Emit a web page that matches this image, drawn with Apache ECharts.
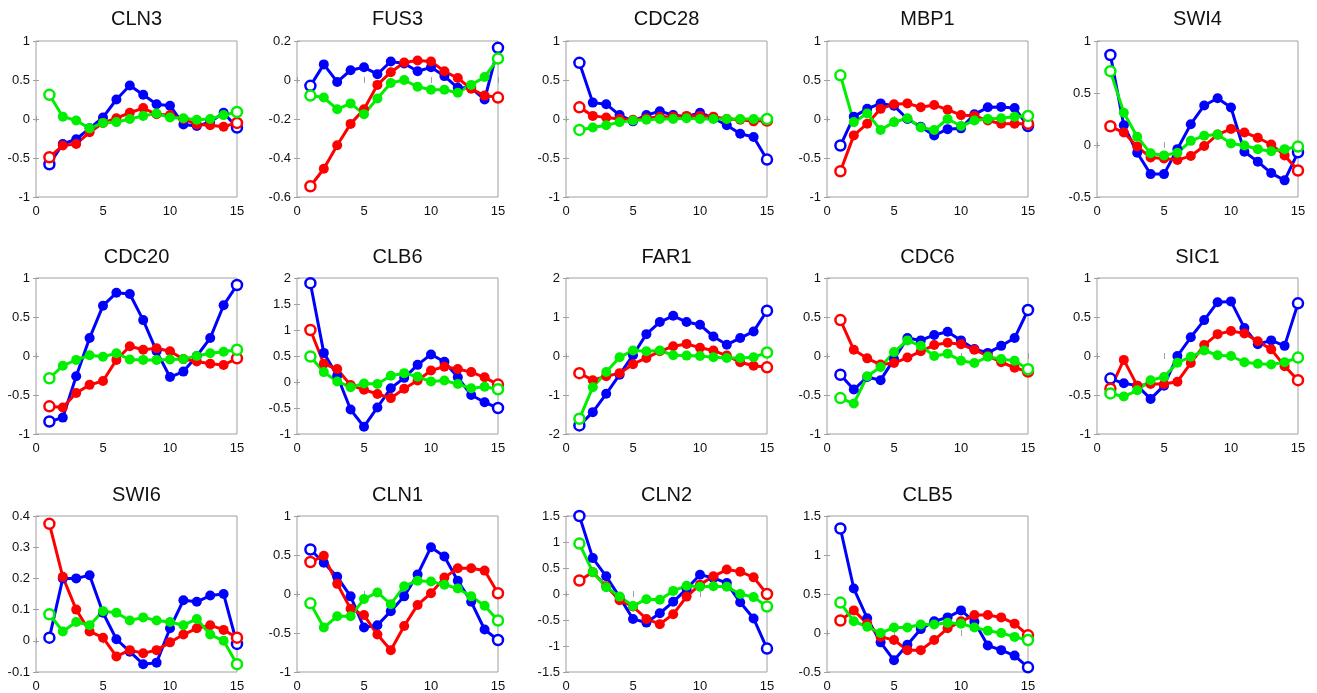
<!DOCTYPE html>
<html>
<head>
<meta charset="utf-8">
<script src="https://cdn.jsdelivr.net/npm/echarts@6/dist/echarts.min.js"></script>
<style>
html,body{margin:0;padding:0;background:#fff;}
#chart{width:1317px;height:693px;}
</style>
</head>
<body>
<div id="chart"></div>
<script>
// x positions (time points)
const xs = [1,2,3,4,5,6,7,8,9,10,11,12,13,14,15];

// panel titles (genes), in reading order
const genes = ['CLN3','FUS3','CDC28','MBP1','SWI4','CDC20','CLB6','FAR1','CDC6','SIC1','SWI6','CLN1','CLN2','CLB5'];

// y axis ranges / tick steps per panel
const yMin  = [-1, -0.6, -1, -1, -0.5, -1, -1, -2, -1, -1, -0.1, -1, -1.5, -0.5];
const yMax  = [ 1,  0.2,  1,  1,  1,    1,  2,  2,  1,  1,  0.4,  1,  1.5,  1.5];
const yStep = [0.5, 0.2, 0.5, 0.5, 0.5, 0.5, 0.5, 1, 0.5, 0.5, 0.1, 0.5, 0.5, 0.5];

// series values: _b = blue, _r = red, _g = green
const CLN3_b = [-0.58,-0.32,-0.26,-0.12,0.02,0.25,0.43,0.31,0.19,0.17,-0.07,-0.09,-0.04,0.08,-0.11];
const CLN3_r = [-0.49,-0.34,-0.32,-0.17,-0.05,0.01,0.08,0.14,0.06,0.05,0.0,-0.07,-0.08,-0.10,-0.05];
const CLN3_g = [0.31,0.03,-0.02,-0.12,-0.05,-0.04,0.0,0.04,0.07,0.02,0.01,-0.01,0.0,0.05,0.09];

const FUS3_b = [-0.03,0.08,-0.01,0.05,0.065,0.03,0.095,0.085,0.045,0.065,0.02,-0.04,-0.04,-0.10,0.165];
const FUS3_r = [-0.545,-0.455,-0.335,-0.225,-0.15,-0.025,0.04,0.09,0.10,0.095,0.045,0.01,-0.045,-0.08,-0.09];
const FUS3_g = [-0.08,-0.09,-0.15,-0.12,-0.175,-0.095,-0.015,0.0,-0.035,-0.05,-0.05,-0.065,-0.025,0.015,0.11];

const CDC28_b = [0.72,0.21,0.19,0.05,-0.03,0.05,0.10,0.05,0.03,0.08,0.01,-0.08,-0.19,-0.23,-0.52];
const CDC28_r = [0.15,0.04,0.02,0.0,-0.01,0.01,0.03,0.03,0.04,0.04,0.03,0.0,-0.01,-0.03,-0.02];
const CDC28_g = [-0.14,-0.11,-0.08,-0.04,-0.02,-0.01,0.0,0.0,0.01,0.0,0.0,0.0,0.0,0.0,0.0];

const MBP1_b = [-0.34,0.03,0.13,0.20,0.17,0.0,-0.10,-0.21,-0.13,-0.12,0.06,0.15,0.155,0.14,-0.09];
const MBP1_r = [-0.67,-0.21,-0.06,0.13,0.19,0.20,0.15,0.18,0.12,0.05,0.04,-0.02,-0.06,-0.06,-0.06];
const MBP1_g = [0.56,-0.04,0.07,-0.14,-0.04,0.01,-0.11,-0.14,0.0,-0.09,-0.02,0.0,0.01,0.03,0.04];

const SWI4_b = [0.865,0.19,-0.075,-0.28,-0.28,-0.04,0.20,0.38,0.45,0.36,-0.065,-0.16,-0.27,-0.34,-0.07];
const SWI4_r = [0.18,0.12,-0.015,-0.12,-0.13,-0.145,-0.105,-0.01,0.10,0.155,0.12,0.07,0.005,-0.10,-0.245];
const SWI4_g = [0.71,0.31,0.08,-0.08,-0.10,-0.075,0.04,0.09,0.10,0.015,-0.005,-0.04,-0.06,-0.04,-0.015];

const CDC20_b = [-0.84,-0.79,-0.26,0.23,0.645,0.81,0.795,0.46,0.06,-0.27,-0.20,0.0,0.23,0.65,0.91];
const CDC20_r = [-0.645,-0.66,-0.475,-0.37,-0.32,-0.05,0.125,0.08,0.10,0.06,-0.04,-0.07,-0.10,-0.115,-0.03];
const CDC20_g = [-0.285,-0.125,-0.05,0.01,-0.01,0.035,-0.045,-0.05,-0.05,-0.045,-0.04,0.0,0.035,0.055,0.08];

const CLB6_b = [1.90,0.56,0.12,-0.53,-0.86,-0.49,-0.12,0.08,0.33,0.53,0.39,0.09,-0.25,-0.39,-0.50];
const CLB6_r = [1.0,0.35,0.25,-0.06,-0.15,-0.23,-0.31,-0.13,0.03,0.22,0.295,0.25,0.19,0.09,-0.05];
const CLB6_g = [0.49,0.19,0.01,-0.10,-0.03,-0.04,0.12,0.17,0.10,0.01,0.03,-0.04,-0.12,-0.09,-0.14];

const FAR1_b = [-1.78,-1.44,-0.97,-0.48,0.02,0.56,0.87,1.03,0.87,0.80,0.50,0.29,0.46,0.63,1.16];
const FAR1_r = [-0.44,-0.62,-0.52,-0.44,-0.21,-0.05,0.12,0.25,0.31,0.21,0.14,0.01,-0.16,-0.25,-0.29];
const FAR1_g = [-1.61,-0.80,-0.41,-0.03,0.14,0.12,0.14,0.02,0.01,0.0,-0.03,-0.05,-0.05,-0.03,0.09];

const CDC6_b = [-0.24,-0.43,-0.27,-0.31,-0.04,0.23,0.20,0.27,0.31,0.20,0.09,0.04,0.13,0.23,0.59];
const CDC6_r = [0.46,0.08,-0.03,-0.11,-0.09,-0.02,0.06,0.14,0.17,0.15,0.08,0.0,-0.08,-0.15,-0.20];
const CDC6_g = [-0.54,-0.61,-0.26,-0.14,0.05,0.20,0.13,0.0,0.03,-0.06,-0.09,-0.01,-0.04,-0.06,-0.17];

const SIC1_b = [-0.29,-0.35,-0.38,-0.55,-0.38,0.0,0.24,0.46,0.69,0.70,0.36,0.15,0.20,0.13,0.675];
const SIC1_r = [-0.42,-0.05,-0.38,-0.36,-0.36,-0.33,-0.09,0.14,0.28,0.32,0.29,0.19,0.085,-0.13,-0.31];
const SIC1_g = [-0.48,-0.52,-0.44,-0.31,-0.27,-0.085,-0.01,0.07,0.01,0.0,-0.08,-0.10,-0.11,-0.08,-0.02];

const SWI6_b = [0.01,0.20,0.20,0.21,0.09,0.005,-0.035,-0.075,-0.07,0.04,0.13,0.125,0.145,0.15,-0.01];
const SWI6_r = [0.375,0.205,0.10,0.03,0.01,-0.05,-0.03,-0.04,-0.03,-0.005,0.02,0.04,0.05,0.035,0.01];
const SWI6_g = [0.085,0.03,0.06,0.05,0.095,0.09,0.065,0.075,0.065,0.06,0.05,0.07,0.02,0.0,-0.075];

const CLN1_b = [0.57,0.40,0.22,-0.03,-0.43,-0.40,-0.22,-0.03,0.25,0.60,0.48,0.17,-0.10,-0.455,-0.59];
const CLN1_r = [0.41,0.49,0.13,-0.19,-0.27,-0.52,-0.72,-0.41,-0.14,0.01,0.21,0.33,0.33,0.30,0.01];
const CLN1_g = [-0.12,-0.43,-0.285,-0.285,-0.065,0.02,-0.13,0.10,0.17,0.16,0.12,0.07,-0.03,-0.15,-0.34];

const CLN2_b = [1.50,0.69,0.34,-0.06,-0.48,-0.55,-0.37,-0.15,0.10,0.37,0.31,0.21,-0.16,-0.47,-1.05];
const CLN2_r = [0.26,0.42,0.15,-0.12,-0.24,-0.48,-0.58,-0.39,-0.05,0.18,0.34,0.47,0.43,0.32,0.0];
const CLN2_g = [0.97,0.42,0.13,-0.05,-0.23,-0.10,-0.11,0.06,0.16,0.14,0.15,0.14,0.0,-0.06,-0.24];

const CLB5_b = [1.34,0.57,0.19,-0.12,-0.35,-0.15,0.05,0.15,0.20,0.29,0.145,-0.16,-0.22,-0.29,-0.44];
const CLB5_r = [0.16,0.29,0.12,-0.05,-0.09,-0.22,-0.22,-0.09,0.06,0.15,0.23,0.23,0.20,0.12,-0.03];
const CLB5_g = [0.39,0.15,0.08,0.0,0.07,0.07,0.11,0.11,0.13,0.12,0.07,0.03,0.0,-0.05,-0.09];

const panelData = [
  [CLN3_b, CLN3_r, CLN3_g], [FUS3_b, FUS3_r, FUS3_g], [CDC28_b, CDC28_r, CDC28_g],
  [MBP1_b, MBP1_r, MBP1_g], [SWI4_b, SWI4_r, SWI4_g], [CDC20_b, CDC20_r, CDC20_g],
  [CLB6_b, CLB6_r, CLB6_g], [FAR1_b, FAR1_r, FAR1_g], [CDC6_b, CDC6_r, CDC6_g],
  [SIC1_b, SIC1_r, SIC1_g], [SWI6_b, SWI6_r, SWI6_g], [CLN1_b, CLN1_r, CLN1_g],
  [CLN2_b, CLN2_r, CLN2_g], [CLB5_b, CLB5_r, CLB5_g]
];

const colors = ['#0000ff', '#ff0000', '#00ee00'];

// layout (pixels)
const colLeft = [36, 297, 566, 827, 1097];
const rowTop = [41, 278, 516];
const rowTitleY = [20, 258, 496];
const plotW = 201, plotH = 156;
const FONT = '"Liberation Sans", Arial, Helvetica, sans-serif';
const BOX = '#a0a0a0';

const grids = [], xAxes = [], yAxes = [], titles = [], series = [];
genes.forEach((g, i) => {
  const c = i % 5, r = Math.floor(i / 5);
  const left = colLeft[c], top = rowTop[r];
  grids.push({left: left, top: top, width: plotW, height: plotH, show: true,
    borderColor: BOX, borderWidth: 1, backgroundColor: 'transparent'});
  titles.push({text: g, left: left + plotW / 2, top: rowTitleY[r] - 11, textAlign: 'center', padding: 0,
    textStyle: {fontFamily: FONT, fontSize: 20, fontWeight: 'normal', color: '#111'}});
  const xIdx = xAxes.length, yIdx = yAxes.length;
  xAxes.push({type: 'value', gridIndex: i, position: 'bottom', min: 0, max: 15, interval: 5,
    axisLine: {show: false}, splitLine: {show: false},
    axisTick: {show: true, inside: true, length: 3, lineStyle: {color: BOX}},
    axisLabel: {fontFamily: FONT, fontSize: 13, color: '#111', margin: 8, showMinLabel: true, showMaxLabel: true}});
  xAxes.push({type: 'value', gridIndex: i, position: 'top', min: 0, max: 15, interval: 5,
    axisLine: {show: false}, splitLine: {show: false}, axisLabel: {show: false},
    axisTick: {show: true, inside: true, length: 3, lineStyle: {color: BOX}}});
  yAxes.push({type: 'value', gridIndex: i, position: 'left', min: yMin[i], max: yMax[i], interval: yStep[i],
    axisLine: {show: false}, splitLine: {show: false},
    axisTick: {show: true, inside: true, length: 3, lineStyle: {color: BOX}},
    axisLabel: {fontFamily: FONT, fontSize: 13, color: '#111', margin: 6, showMinLabel: true, showMaxLabel: true,
      formatter: v => String(Math.round(v * 100) / 100)}});
  yAxes.push({type: 'value', gridIndex: i, position: 'right', min: yMin[i], max: yMax[i], interval: yStep[i],
    axisLine: {show: false}, splitLine: {show: false}, axisLabel: {show: false},
    axisTick: {show: true, inside: true, length: 3, lineStyle: {color: BOX}}});
  panelData[i].forEach((arr, k) => {
    series.push({
      type: 'line', xAxisIndex: xIdx, yAxisIndex: yIdx, clip: false,
      symbol: 'circle', symbolSize: 10, showAllSymbol: true,
      lineStyle: {color: colors[k], width: 3},
      itemStyle: {color: colors[k]},
      data: xs.map((x, j) => {
        const item = {value: [x, arr[j]]};
        if (j === 0 || j === xs.length - 1) {
          item.itemStyle = {color: '#ffffff', borderColor: colors[k], borderWidth: 2.5};
        }
        return item;
      })
    });
  });
});

const chart = echarts.init(document.getElementById('chart'), null, {renderer: 'canvas'});
chart.setOption({
  animation: false,
  backgroundColor: '#ffffff',
  title: titles,
  grid: grids,
  xAxis: xAxes,
  yAxis: yAxes,
  series: series
});
</script>
</body>
</html>
